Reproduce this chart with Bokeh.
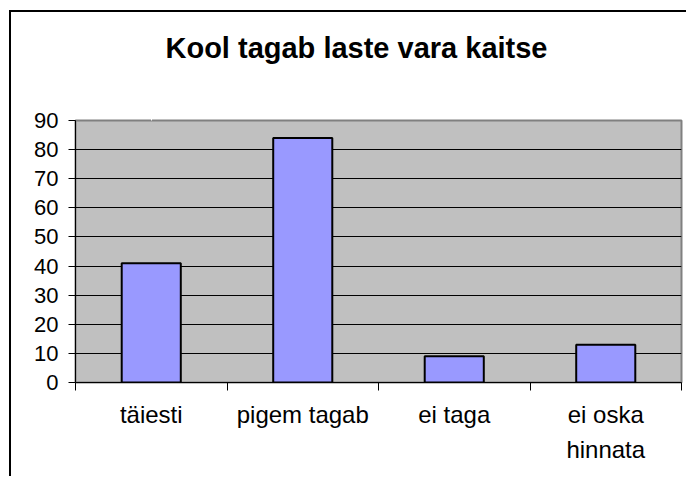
from bokeh.plotting import figure
from bokeh.models import Range1d, FixedTicker, Title, LinearAxis
from bokeh.embed import file_html
from bokeh.resources import INLINE

# ---- data ----
categories = ["täiesti", "pigem tagab", "ei taga", "ei oska\nhinnata"]
values = [41, 84, 9, 13]
y_ticks = [0, 10, 20, 30, 40, 50, 60, 70, 80, 90]
title_text = "Kool tagab laste vara kaitse"

n = len(categories)
centers = [i + 0.5 for i in range(n)]
boundaries = list(range(n + 1))

FONT = "Liberation Sans"

p = figure(width=677, height=466, output_backend="svg", toolbar_location=None,
           x_range=Range1d(0, n), y_range=Range1d(y_ticks[0], y_ticks[-1]),
           min_border_left=64, min_border_right=7,
           min_border_top=108, min_border_bottom=96)
p.title = None
p.styles = {"margin-left": "9px", "margin-top": "10px",
            "border-left": "2px solid black", "border-top": "2px solid black"}

p.background_fill_color = "#C0C0C0"
p.border_fill_color = "white"
p.outline_line_color = "#808080"
p.outline_line_width = 2

p.vbar(x=centers, top=values, width=0.39, bottom=0,
       fill_color="#9999FF", line_color="black", line_width=2)

# y axis
ya = p.yaxis[0]
ya.ticker = FixedTicker(ticks=y_ticks)
ya.major_tick_in = 0
ya.major_tick_out = 7
ya.minor_tick_line_color = None
ya.axis_line_color = "black"
ya.major_tick_line_color = "black"
ya.major_label_text_font = FONT
ya.major_label_text_font_size = "22px"
ya.major_label_text_color = "black"
ya.major_label_standoff = 10

p.xgrid.visible = False
p.ygrid.grid_line_color = "black"
p.ygrid.grid_line_width = 1
p.ygrid.ticker = FixedTicker(ticks=y_ticks)

# x axis: labels at category centres, tick marks at category boundaries
xa = p.xaxis[0]
xa.ticker = FixedTicker(ticks=centers, minor_ticks=boundaries)
xa.major_label_overrides = {c: lab for c, lab in zip(centers, categories)}
xa.axis_line_color = "black"
xa.major_tick_line_color = None
xa.major_tick_in = 0
xa.major_tick_out = 0
xa.minor_tick_line_color = "black"
xa.minor_tick_in = 0
xa.minor_tick_out = 8
xa.major_label_standoff = 10
xa.major_label_text_font = FONT
xa.major_label_text_font_size = "24px"
xa.major_label_text_color = "black"
xa.major_label_text_line_height = 1.3

# blank spacer between the frame and the title (one white tick, empty label)
spacer = LinearAxis(ticker=FixedTicker(ticks=[centers[0]]), axis_line_color=None,
                    major_tick_line_color="white", minor_tick_line_color=None,
                    major_tick_out=52, major_tick_in=0, major_label_standoff=0,
                    major_label_overrides={centers[0]: ""},
                    major_label_text_font_size="1px")
p.add_layout(spacer, "above")

t = Title(text=title_text, align="left", text_font=FONT, text_font_size="29px",
          text_font_style="bold", text_color="black", standoff=10, offset=90)
p.add_layout(t, "above")

open("out.html", "w").write(file_html(p, INLINE))
